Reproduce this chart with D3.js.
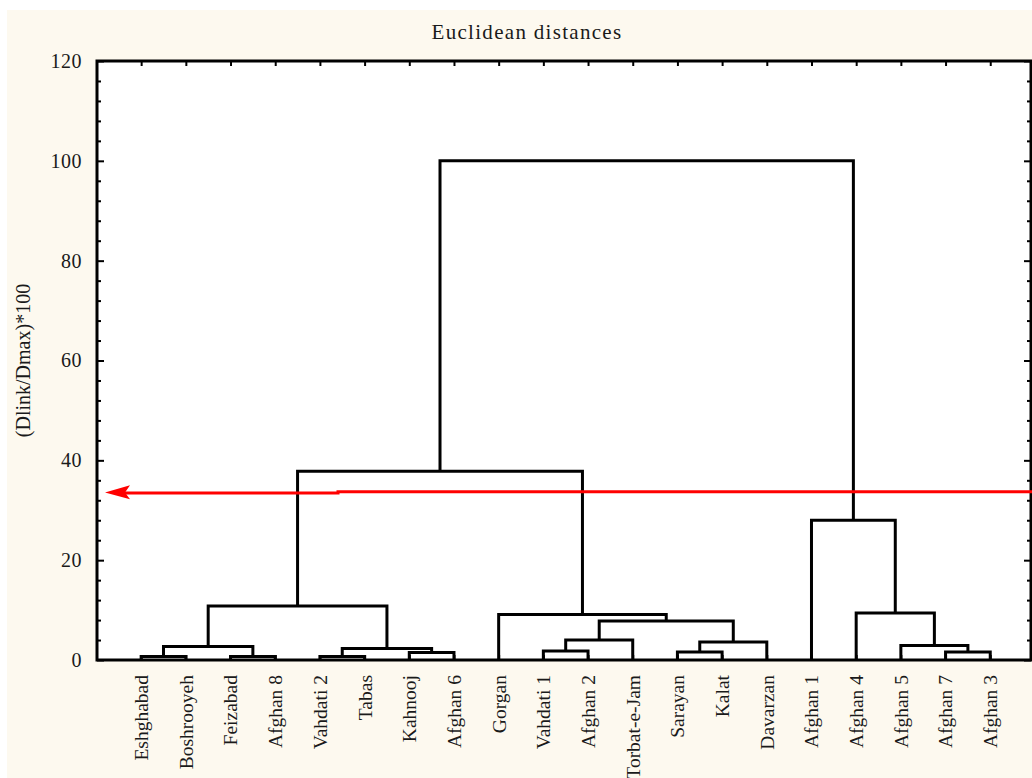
<!DOCTYPE html>
<html>
<head>
<meta charset="utf-8">
<script src="https://cdn.jsdelivr.net/npm/d3@7"></script>
<style>
  html, body { margin: 0; padding: 0; background: #ffffff; }
  svg { display: block; }
  text { font-family: "Liberation Serif", "Times New Roman", serif; fill: #1a1a1a; }
</style>
</head>
<body>
<svg id="chart" width="1032" height="778"></svg>
<script>
// Leaf order along the horizontal axis
const leaves = [
  "Eshghabad", "Boshrooyeh", "Feizabad", "Afghan 8", "Vahdati 2", "Tabas",
  "Kahnooj", "Afghan 6", "Gorgan", "Vahdati 1", "Afghan 2", "Torbat-e-Jam",
  "Sarayan", "Kalat", "Davarzan", "Afghan 1", "Afghan 4", "Afghan 5",
  "Afghan 7", "Afghan 3"
];

// Agglomeration steps: [left node, right node, linkage distance].
// Nodes 0..19 are leaves; each step k creates node 20 + k.
const mergeLeft  = [0, 2, 4, 6, 18, 12, 9, 22, 20, 17, 25, 26, 31, 8, 16, 28, 15, 35, 37];
const mergeRight = [1, 3, 5, 7, 19, 13, 10, 23, 21, 24, 14, 11, 30, 32, 29, 27, 34, 33, 36];
const mergeDist  = [0.7, 0.7, 0.7, 1.5, 1.6, 1.6, 1.8, 2.3, 2.7, 2.9, 3.6, 4.0, 7.8, 9.1, 9.4, 10.8, 28.0, 37.8, 100];

// Y-axis tick values
const majorTicks = [0, 20, 40, 60, 80, 100, 120];
const minorTicks = d3.range(0, 121, 4);

// Cut level marked with the red arrow
const cutLevel = 33.7;

const svg = d3.select("#chart");
const W = 1032, H = 778;
const pLeft = 97, pRight = 1031, pTop = 61, pBottom = 660;

// Cream window background
svg.append("rect").attr("x", 7).attr("y", 10).attr("width", W - 7).attr("height", H - 10)
  .attr("fill", "#fdf9ef");
// White plotting area
svg.append("rect").attr("x", pLeft).attr("y", pTop).attr("width", pRight - pLeft).attr("height", pBottom - pTop)
  .attr("fill", "#ffffff");

const x = d3.scalePoint().domain(leaves).range([pLeft, pRight]).padding(0.95).align(0.52);
const y = d3.scaleLinear().domain([0, 120]).range([pBottom, pTop]);

// Node positions: leaves at height 0, internal nodes at midpoint of children
const nodeX = leaves.map(d => x(d));
const nodeH = leaves.map(() => 0);
mergeDist.forEach((h, k) => {
  nodeX.push((nodeX[mergeLeft[k]] + nodeX[mergeRight[k]]) / 2);
  nodeH.push(h);
});

// Dendrogram links
const links = svg.append("g").attr("fill", "none").attr("stroke", "#000").attr("stroke-width", 3)
  .attr("stroke-linejoin", "miter");
mergeDist.forEach((h, k) => {
  const a = mergeLeft[k], b = mergeRight[k];
  const p = d3.path();
  p.moveTo(nodeX[a], y(nodeH[a]));
  p.lineTo(nodeX[a], y(h));
  p.lineTo(nodeX[b], y(h));
  p.lineTo(nodeX[b], y(nodeH[b]));
  links.append("path").attr("d", p.toString());
});

// Axes
const axisStyle = g => {
  g.select(".domain").remove();
  g.selectAll(".tick line").attr("stroke", "#000").attr("stroke-width", 2);
};

svg.append("g").attr("transform", `translate(${pLeft},0)`)
  .call(d3.axisLeft(y).tickValues(minorTicks.filter(v => v % 20)).tickSize(-4).tickFormat(""))
  .call(axisStyle);
svg.append("g").attr("transform", `translate(${pLeft},0)`)
  .call(d3.axisLeft(y).tickValues(majorTicks).tickSize(-7).tickPadding(15))
  .call(axisStyle)
  .call(g => g.selectAll("text").attr("font-size", 20).attr("font-family", "Liberation Serif, serif")
    .attr("fill", "#1a1a1a").attr("letter-spacing", "0.5px"));

svg.append("g").attr("transform", `translate(${pRight},0)`)
  .call(d3.axisRight(y).tickValues(minorTicks.filter(v => v % 20)).tickSize(-4).tickFormat(""))
  .call(axisStyle);
svg.append("g").attr("transform", `translate(${pRight},0)`)
  .call(d3.axisRight(y).tickValues(majorTicks).tickSize(-7).tickFormat(""))
  .call(axisStyle);

svg.append("g").attr("transform", `translate(0,${pTop})`)
  .call(d3.axisTop(x).tickSize(-5).tickFormat(""))
  .call(axisStyle);

svg.append("g").attr("transform", `translate(0,${pBottom})`)
  .call(d3.axisBottom(x).tickSize(-5).tickPadding(0))
  .call(axisStyle)
  .call(g => g.selectAll("text")
    .attr("font-size", 19.5).attr("font-family", "Liberation Serif, serif").attr("fill", "#1a1a1a")
    .attr("text-anchor", "end")
    .attr("transform", "rotate(-90)")
    .attr("x", -15).attr("y", 0).attr("dy", "0.33em"));

// Frame
svg.append("rect").attr("x", pLeft).attr("y", pTop).attr("width", pRight - pLeft).attr("height", pBottom - pTop)
  .attr("fill", "none").attr("stroke", "#000").attr("stroke-width", 3);

// Titles
svg.append("text").attr("x", 527).attr("y", 39).attr("text-anchor", "middle")
  .attr("font-size", 21).attr("letter-spacing", "1.3px").text("Euclidean distances");
svg.append("text").attr("transform", `translate(30,${(pTop + pBottom) / 2}) rotate(-90)`)
  .attr("text-anchor", "middle").attr("font-size", 20).text("(Dlink/Dmax)*100");

// Red cut-level arrow
const yc = y(cutLevel);
const red = svg.append("g");
red.append("path")
  .attr("d", `M124,${yc + 1.2} H338 V${yc} H${W}`)
  .attr("fill", "none").attr("stroke", "#ff0000").attr("stroke-width", 3);
red.append("path")
  .attr("d", `M105,${yc + 0.6} L130,${yc - 6.5} L125,${yc + 0.6} L130,${yc + 7.5} Z`)
  .attr("fill", "#ff0000");
</script>
</body>
</html>
